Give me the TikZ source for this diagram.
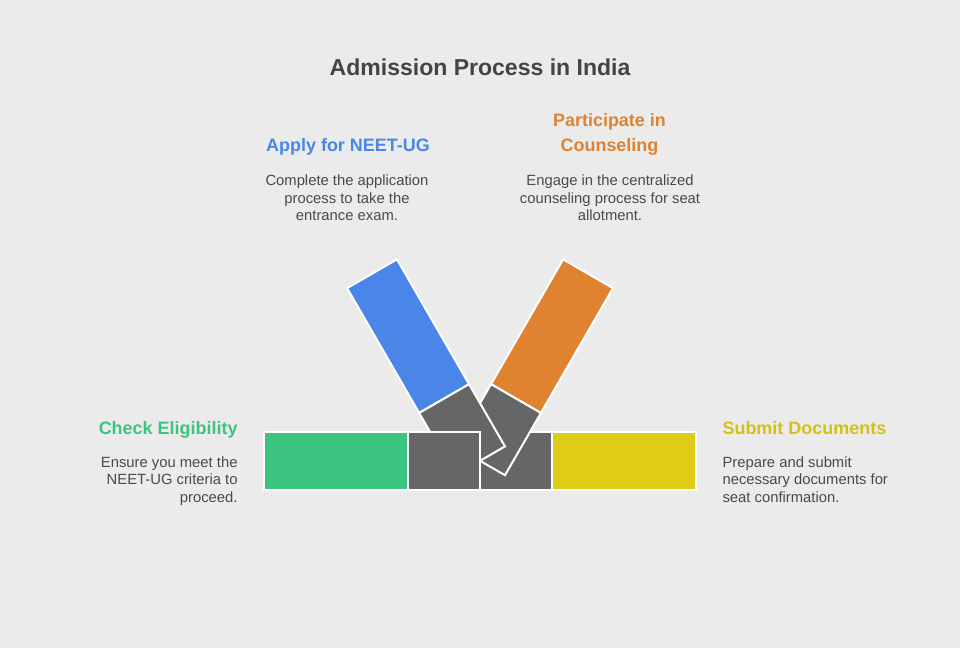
\documentclass[tikz,border=0pt]{standalone}
\usepackage{fontspec}
\setmainfont{Liberation Sans}
\usepackage{tikz}
\usetikzlibrary{positioning, calc}
\usepackage{xcolor}

\definecolor{bgcol}{HTML}{EBEBEB}
\definecolor{armblue}{HTML}{4A86E8}
\definecolor{armorange}{HTML}{DF8330}
\definecolor{armgreen}{HTML}{3CC481}
\definecolor{armyellow}{HTML}{DECC16}
\definecolor{armgray}{HTML}{666666}
\definecolor{titlecol}{HTML}{444444}
\definecolor{bodycol}{HTML}{4A4A4A}

\tikzset{
  seg/.style={draw=white, line width=0.8pt},
  heading/.style={font=\bfseries\fontsize{7.1}{9.7}\selectfont, inner sep=0pt},
  body/.style={font=\fontsize{5.85}{6.9}\selectfont, text=bodycol, inner sep=0pt},
}

\begin{document}
\begin{tikzpicture}
% background
\fill[bgcol] (0,0) rectangle (13.333,9);
\useasboundingbox (0,0) rectangle (13.333,9);
\coordinate (hub) at (6.667,2.6);
% right half of the bar, under the arms
\draw[seg, fill=armgray] ($(hub)+(0,-0.4)$) rectangle ($(hub)+(1,0.4)$);
% orange arm
\begin{scope}[shift={(hub)}, rotate=60]
  \draw[seg, fill=armgray] (0,-0.4) rectangle (1,0.4);
  \draw[seg, fill=armorange] (1,-0.4) rectangle (3,0.4);
\end{scope}
% blue arm
\begin{scope}[shift={(hub)}, rotate=120]
  \draw[seg, fill=armgray] (0,-0.4) rectangle (1,0.4);
  \draw[seg, fill=armblue] (1,-0.4) rectangle (3,0.4);
\end{scope}
% left half of the bar, on top
\draw[seg, fill=armgray] ($(hub)+(-1,-0.4)$) rectangle ($(hub)+(0,0.4)$);
\draw[seg, fill=armgreen] ($(hub)+(-3,-0.4)$) rectangle ($(hub)+(-1,0.4)$);
\draw[seg, fill=armyellow] ($(hub)+(1,-0.4)$) rectangle ($(hub)+(3,0.4)$);
% title
\node[font=\bfseries\fontsize{9.1}{11}\selectfont, text=titlecol, inner sep=0pt, anchor=base]
  (title) at (6.667,7.958) {Admission Process in India};
% apply
\node[heading, text=armblue, anchor=base] (applyhead) at (4.833,6.896) {Apply for NEET-UG};
\node[body, align=center, anchor=north] (applytext) at (4.819,6.578)
  {Complete the application\\process to take the\\entrance exam.};
% counseling
\node[heading, text=armorange, align=center, anchor=north] (counshead) at (8.465,7.431)
  {Participate in\\Counseling};
\node[body, align=center, anchor=north] (counstext) at (8.472,6.578)
  {Engage in the centralized\\counseling process for seat\\allotment.};
% eligibility
\node[heading, text=armgreen, anchor=base east] (eligihead) at (3.306,2.968) {Check Eligibility};
\node[body, align=right, anchor=north east] (eligitext) at (3.306,2.667)
  {Ensure you meet the\\NEET-UG criteria to\\proceed.};
% documents
\node[heading, text=armyellow!95!black, anchor=base west] (docshead) at (10.028,2.968) {Submit Documents};
\node[body, align=left, anchor=north west] (docstext) at (10.028,2.667)
  {Prepare and submit\\necessary documents for\\seat confirmation.};
\end{tikzpicture}
\end{document}
